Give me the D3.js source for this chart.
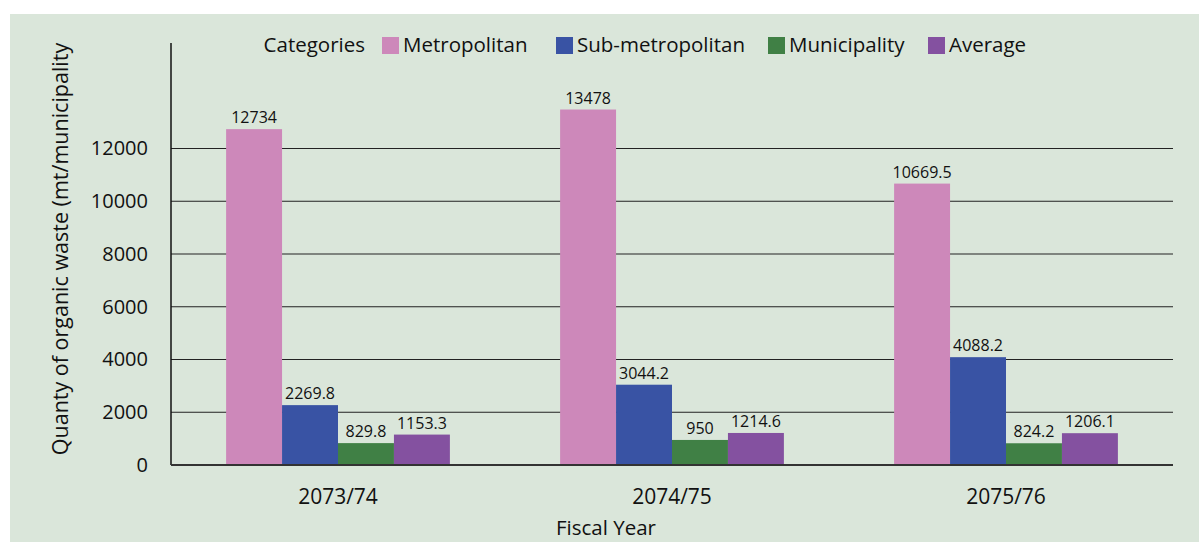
<!DOCTYPE html>
<html>
<head>
<meta charset="utf-8">
<script src="https://cdn.jsdelivr.net/npm/d3@7"></script>
<style>
    body { margin: 0; background: #fff; }
    text { font-family: "Open Sans", sans-serif; fill: #111; }
</style>
</head>
<body>
<script>
// data
let years = ["2073/74", "2074/75", "2075/76"];
let categories = ["Metropolitan", "Sub-metropolitan", "Municipality", "Average"];
let metropolitan = [12734, 13478, 10669.5];
let subMetropolitan = [2269.8, 3044.2, 4088.2];
let municipality = [829.8, 950, 824.2];
let average = [1153.3, 1214.6, 1206.1];
let colors = ["#cd88ba", "#3953a4", "#408045", "#8451a0"];
let yTicks = [0, 2000, 4000, 6000, 8000, 10000, 12000];

let series = [metropolitan, subMetropolitan, municipality, average];

let width = 1199, height = 542;
let plotL = 171, plotR = 1173, plotT = 43, plotB = 465;

let svg = d3
    .select("body")
    .append("svg")
    .attr("width", width)
    .attr("height", height);

// panel
svg.append("rect")
    .attr("x", 10)
    .attr("y", 14)
    .attr("width", width - 10)
    .attr("height", height - 14)
    .attr("fill", "#dae6da");

let x = d3.scaleBand().domain(years).range([plotL, plotR]).paddingInner(0.33).paddingOuter(0.165);
let xi = d3.scaleBand().domain(categories).range([0, x.bandwidth()]);
let y = d3.scaleLinear().domain([0, 16000]).range([plotB, plotT]);

// gridlines
svg.append("g")
    .selectAll("line")
    .data(yTicks.filter((t) => t > 0))
    .join("line")
    .attr("x1", plotL)
    .attr("x2", plotR)
    .attr("y1", (d) => y(d))
    .attr("y2", (d) => y(d))
    .attr("stroke", "#222")
    .attr("stroke-width", 1.2);

// y tick labels
let yAxis = svg.append("g")
    .attr("transform", `translate(${plotL},0)`)
    .call(d3.axisLeft(y).tickValues(yTicks).tickSize(0).tickPadding(23).tickFormat(d3.format("d")));
yAxis.select(".domain").remove();
yAxis.selectAll("text")
    .attr("font-size", 20)
    .attr("font-family", "Open Sans, sans-serif")
    .attr("fill", "#111");

// bars
let groups = svg.append("g")
    .selectAll("g")
    .data(years)
    .join("g")
    .attr("transform", (d) => `translate(${x(d)},0)`);

groups.each(function (yr, i) {
    let g = d3.select(this);
    categories.forEach((c, k) => {
        let v = series[k][i];
        g.append("rect")
            .attr("x", xi(c))
            .attr("y", y(v))
            .attr("width", xi.bandwidth())
            .attr("height", plotB - y(v))
            .attr("fill", colors[k]);
        g.append("text")
            .attr("x", xi(c) + xi.bandwidth() / 2)
            .attr("y", y(v) - 6)
            .attr("text-anchor", "middle")
            .attr("font-size", 16)
            .text(v);
    });
});

// axis lines
svg.append("line")
    .attr("x1", plotL).attr("x2", plotL)
    .attr("y1", plotT).attr("y2", plotB)
    .attr("stroke", "#111").attr("stroke-width", 1.5);
svg.append("line")
    .attr("x1", plotL).attr("x2", plotR)
    .attr("y1", plotB).attr("y2", plotB)
    .attr("stroke", "#333").attr("stroke-width", 2);

// x labels
let xAxis = svg.append("g")
    .attr("transform", `translate(0,${plotB})`)
    .call(d3.axisBottom(x).tickSize(0).tickPadding(24));
xAxis.select(".domain").remove();
xAxis.selectAll("text")
    .attr("font-size", 21)
    .attr("font-family", "Open Sans, sans-serif")
    .attr("fill", "#111");

// axis titles
svg.append("text")
    .attr("x", 606)
    .attr("y", 535)
    .attr("text-anchor", "middle")
    .attr("font-size", 20.5)
    .text("Fiscal Year");

svg.append("text")
    .attr("transform", "translate(68,249) rotate(-90)")
    .attr("text-anchor", "middle")
    .attr("font-size", 21.5)
    .text("Quanty of organic waste (mt/municipality");

// legend
let legendX = [382, 556, 768, 928];
svg.append("text")
    .attr("x", 365)
    .attr("y", 52)
    .attr("text-anchor", "end")
    .attr("font-size", 20.5)
    .text("Categories");
categories.forEach((c, k) => {
    svg.append("rect")
        .attr("x", legendX[k])
        .attr("y", 37)
        .attr("width", 17)
        .attr("height", 17)
        .attr("fill", colors[k]);
    svg.append("text")
        .attr("x", legendX[k] + 21)
        .attr("y", 52)
        .attr("font-size", 20.5)
        .text(c);
});
</script>
</body>
</html>
